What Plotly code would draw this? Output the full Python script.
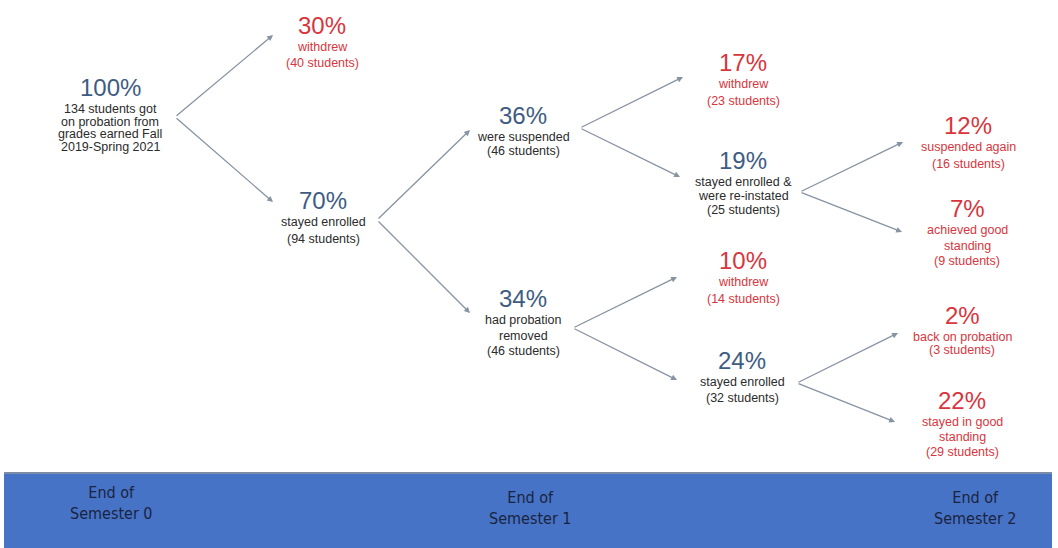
import plotly.graph_objects as go

# ---- data ----
pct_labels = ["100%", "30%", "70%", "36%", "34%", "17%", "19%", "10%", "24%", "12%", "7%", "2%", "22%"]
desc_lines = [
    ["134 students got", "on probation from", "grades earned Fall", "2019-Spring 2021"],
    ["withdrew", "(40 students)"],
    ["stayed enrolled", "(94 students)"],
    ["were suspended", "(46 students)"],
    ["had probation", "removed", "(46 students)"],
    ["withdrew", "(23 students)"],
    ["stayed enrolled &", "were re-instated", "(25 students)"],
    ["withdrew", "(14 students)"],
    ["stayed enrolled", "(32 students)"],
    ["suspended again", "(16 students)"],
    ["achieved good", "standing", "(9 students)"],
    ["back on probation", "(3 students)"],
    ["stayed in good", "standing", "(29 students)"],
]
node_outcome = ["stay", "leave", "stay", "stay", "stay", "leave", "stay", "leave", "stay", "leave", "leave", "leave", "leave"]
edge_parent = [0, 0, 2, 2, 3, 3, 4, 4, 6, 6, 8, 8]
edge_child = [1, 2, 3, 4, 5, 6, 7, 8, 9, 10, 11, 12]
stage_labels = ["End of<br>Semester 0", "End of<br>Semester 1", "End of<br>Semester 2"]

# ---- layout geometry (pixel space) ----
node_x = [110, 322, 323, 523, 523, 743, 743, 743, 742, 968, 967, 962, 962]
node_y = [87, 25, 200, 115, 298, 62, 160, 260, 360, 125, 208, 315, 400]
line_gap = [12.5, 16, 17, 14, 15.5, 17, 14, 17, 16, 17, 15.5, 12.5, 15]
fork_xy = {0: (175, 117), 2: (377, 220), 3: (580, 128), 4: (573, 328), 6: (800, 192), 8: (797, 383)}
tip_xy = {1: (273, 35), 2: (273, 202), 3: (470, 130), 4: (470, 313), 5: (683, 77), 6: (680, 177),
          7: (677, 277), 8: (677, 380), 9: (903, 142), 10: (902, 232), 11: (898, 333), 12: (895, 422)}
stage_x = [111, 530, 975]
stage_y = [503, 508, 508]

W, H = 1058, 548
colors = {"stay": ("#3e5c82", "#2b2b2b"), "leave": ("#d8353d", "#d8353d")}
FONT = "Liberation Sans, Arial, sans-serif"

fig = go.Figure()
fig.add_trace(go.Scatter(x=[0, W], y=[0, H], mode="markers", marker=dict(opacity=0), hoverinfo="skip", showlegend=False))

ann = []
for i, p in enumerate(pct_labels):
    pc, dc = colors[node_outcome[i]]
    ann.append(dict(x=node_x[i], y=node_y[i], text=p, showarrow=False, xanchor="center", yanchor="middle",
                    font=dict(family=FONT, size=24, color=pc)))
    for k, line in enumerate(desc_lines[i]):
        ann.append(dict(x=node_x[i], y=node_y[i] + 22 + k * line_gap[i], text=line, showarrow=False,
                        xanchor="center", yanchor="middle", font=dict(family=FONT, size=12.5, color=dc)))

for pa, ch in zip(edge_parent, edge_child):
    fx, fy = fork_xy[pa]
    tx, ty = tip_xy[ch]
    ann.append(dict(x=tx, y=ty, ax=fx, ay=fy, xref="x", yref="y", axref="x", ayref="y", text="",
                    showarrow=True, arrowhead=2, arrowsize=0.9, arrowwidth=1.3, arrowcolor="#8693a2"))

for sx, sy, sl in zip(stage_x, stage_y, stage_labels):
    ann.append(dict(x=sx, y=sy, text=sl, showarrow=False, xanchor="center", yanchor="middle",
                    font=dict(family="DejaVu Sans Condensed, Liberation Sans Narrow, Roboto Condensed, Liberation Sans",
                              size=16, color="#1a2340")))

shapes = [
    dict(type="rect", x0=4, x1=1052, y0=473, y1=548, xref="x", yref="y", fillcolor="#4673c6", line=dict(width=0), layer="below"),
    dict(type="line", x0=4, x1=1052, y0=473, y1=473, xref="x", yref="y", line=dict(color="#7d8ca6", width=2), layer="below"),
]

fig.update_layout(
    width=W, height=H, margin=dict(l=0, r=0, t=0, b=0),
    paper_bgcolor="white", plot_bgcolor="white",
    xaxis=dict(range=[0, W], visible=False, fixedrange=True),
    yaxis=dict(range=[H, 0], visible=False, fixedrange=True),
    annotations=ann, shapes=shapes, showlegend=False,
)
fig.write_html("out.html", config={"displayModeBar": False},
               post_script="document.body.style.margin='0';document.body.style.overflow='hidden';")
